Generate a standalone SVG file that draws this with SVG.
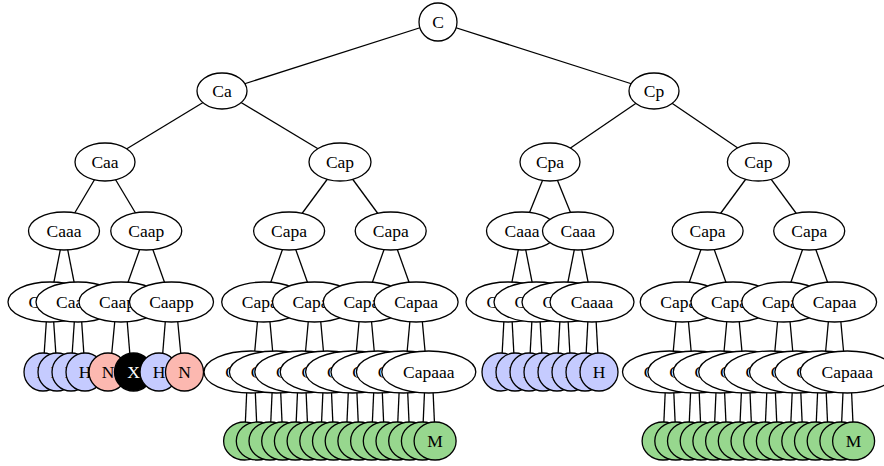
<svg xmlns="http://www.w3.org/2000/svg" width="884" height="466" viewBox="0 0 884 466">
<style>
.e{fill:#fff;stroke:#000;stroke-width:1.3}
.b{fill:#c5cbff;stroke:#000;stroke-width:1.3}
.p{fill:#fcb8b0;stroke:#000;stroke-width:1.3}
.k{fill:#000;stroke:#000;stroke-width:1.3}
.g{fill:#97d78e;stroke:#000;stroke-width:1.3}
text{font-family:"Liberation Serif","Times New Roman",serif;font-size:17.5px;text-anchor:middle;fill:#000}
text.s{text-anchor:start}
text.w{fill:#fff}
#edges line{stroke:#000;stroke-width:1.3}
</style>
<rect width="884" height="466" fill="#fff"/>
<g id="edges">
<line x1="438" y1="22" x2="222" y2="91"/><line x1="438" y1="22" x2="654" y2="91"/>
<line x1="222" y1="91" x2="105" y2="162"/><line x1="222" y1="91" x2="340" y2="162"/>
<line x1="654" y1="91" x2="550" y2="162"/><line x1="654" y1="91" x2="758.4" y2="162"/>
<line x1="105" y1="162" x2="64" y2="231"/><line x1="105" y1="162" x2="146.25" y2="231"/>
<line x1="340" y1="162" x2="289.1" y2="231"/><line x1="340" y1="162" x2="390.7" y2="231"/>
<line x1="550" y1="162" x2="522" y2="231"/><line x1="550" y1="162" x2="578" y2="231"/>
<line x1="758.4" y1="162" x2="707.6" y2="231"/><line x1="758.4" y1="162" x2="809.2" y2="231"/>
<line x1="64" y1="231" x2="50" y2="302"/><line x1="64" y1="231" x2="78" y2="302"/>
<line x1="146.25" y1="231" x2="121" y2="302"/><line x1="146.25" y1="231" x2="171.5" y2="302"/>
<line x1="289.1" y1="231" x2="263.7" y2="302"/><line x1="289.1" y1="231" x2="314.5" y2="302"/>
<line x1="390.7" y1="231" x2="365.3" y2="302"/><line x1="390.7" y1="231" x2="416.1" y2="302"/>
<line x1="522" y1="231" x2="508" y2="302"/><line x1="522" y1="231" x2="536" y2="302"/>
<line x1="578" y1="231" x2="564" y2="302"/><line x1="578" y1="231" x2="592" y2="302"/>
<line x1="707.6" y1="231" x2="682.2" y2="302"/><line x1="707.6" y1="231" x2="733" y2="302"/>
<line x1="809.2" y1="231" x2="783.8" y2="302"/><line x1="809.2" y1="231" x2="834.6" y2="302"/>
<line x1="46.5" y1="319" x2="44" y2="356"/><line x1="53.5" y1="319" x2="56" y2="356"/>
<line x1="74.5" y1="319" x2="72" y2="356"/><line x1="81.5" y1="319" x2="84" y2="356"/>
<line x1="115" y1="319" x2="111.5" y2="356"/><line x1="127" y1="319" x2="130" y2="356"/>
<line x1="165.5" y1="319" x2="162.5" y2="356"/><line x1="177.5" y1="319" x2="181" y2="356"/>
<line x1="257.7" y1="319" x2="254.5" y2="354"/><line x1="269.7" y1="319" x2="272.9" y2="354"/>
<line x1="308.5" y1="319" x2="305.3" y2="354"/><line x1="320.5" y1="319" x2="323.7" y2="354"/>
<line x1="359.3" y1="319" x2="356.1" y2="354"/><line x1="371.3" y1="319" x2="374.5" y2="354"/>
<line x1="410.1" y1="319" x2="406.9" y2="354"/><line x1="422.1" y1="319" x2="425.3" y2="354"/>
<line x1="504" y1="319" x2="502" y2="356"/><line x1="512" y1="319" x2="514" y2="356"/>
<line x1="532" y1="319" x2="530" y2="356"/><line x1="540" y1="319" x2="542" y2="356"/>
<line x1="560" y1="319" x2="558" y2="356"/><line x1="568" y1="319" x2="570" y2="356"/>
<line x1="588" y1="319" x2="586" y2="356"/><line x1="596" y1="319" x2="598" y2="356"/>
<line x1="676.2" y1="319" x2="673" y2="354"/><line x1="688.2" y1="319" x2="691.4" y2="354"/>
<line x1="727" y1="319" x2="723.8" y2="354"/><line x1="739" y1="319" x2="742.2" y2="354"/>
<line x1="777.8" y1="319" x2="774.6" y2="354"/><line x1="789.8" y1="319" x2="793" y2="354"/>
<line x1="828.6" y1="319" x2="825.4" y2="354"/><line x1="840.6" y1="319" x2="843.8" y2="354"/>
<line x1="246.8" y1="390" x2="245.25" y2="425"/><line x1="255.2" y1="390" x2="256.75" y2="425"/>
<line x1="272.2" y1="390" x2="270.65" y2="425"/><line x1="280.6" y1="390" x2="282.15" y2="425"/>
<line x1="297.6" y1="390" x2="296.05" y2="425"/><line x1="306" y1="390" x2="307.55" y2="425"/>
<line x1="323" y1="390" x2="321.45" y2="425"/><line x1="331.4" y1="390" x2="332.95" y2="425"/>
<line x1="348.4" y1="390" x2="346.85" y2="425"/><line x1="356.8" y1="390" x2="358.35" y2="425"/>
<line x1="373.8" y1="390" x2="372.25" y2="425"/><line x1="382.2" y1="390" x2="383.75" y2="425"/>
<line x1="399.2" y1="390" x2="397.65" y2="425"/><line x1="407.6" y1="390" x2="409.15" y2="425"/>
<line x1="424.6" y1="390" x2="423.05" y2="425"/><line x1="433" y1="390" x2="434.55" y2="425"/>
<line x1="665.3" y1="390" x2="663.75" y2="425"/><line x1="673.7" y1="390" x2="675.25" y2="425"/>
<line x1="690.7" y1="390" x2="689.15" y2="425"/><line x1="699.1" y1="390" x2="700.65" y2="425"/>
<line x1="716.1" y1="390" x2="714.55" y2="425"/><line x1="724.5" y1="390" x2="726.05" y2="425"/>
<line x1="741.5" y1="390" x2="739.95" y2="425"/><line x1="749.9" y1="390" x2="751.45" y2="425"/>
<line x1="766.9" y1="390" x2="765.35" y2="425"/><line x1="775.3" y1="390" x2="776.85" y2="425"/>
<line x1="792.3" y1="390" x2="790.75" y2="425"/><line x1="800.7" y1="390" x2="802.25" y2="425"/>
<line x1="817.7" y1="390" x2="816.15" y2="425"/><line x1="826.1" y1="390" x2="827.65" y2="425"/>
<line x1="843.1" y1="390" x2="841.55" y2="425"/><line x1="851.5" y1="390" x2="853.05" y2="425"/>
</g>
<g id="n0"><circle class="e" cx="438" cy="22" r="19"/><text x="438" y="28">C</text></g>
<g id="n1"><ellipse class="e" cx="222" cy="91" rx="25" ry="18"/><text x="222" y="97">Ca</text></g>
<g id="n2"><ellipse class="e" cx="654" cy="91" rx="25" ry="18"/><text x="654" y="97">Cp</text></g>
<g id="n3"><ellipse class="e" cx="105" cy="162" rx="30" ry="19"/><text x="105" y="168">Caa</text></g>
<g id="n4"><ellipse class="e" cx="340" cy="162" rx="31" ry="19"/><text x="340" y="168">Cap</text></g>
<g id="n5"><ellipse class="e" cx="550" cy="162" rx="30" ry="19"/><text x="550" y="168">Cpa</text></g>
<g id="n6"><ellipse class="e" cx="758.4" cy="162" rx="31" ry="19"/><text x="758.4" y="168">Cap</text></g>
<g id="n7"><ellipse class="e" cx="64" cy="231" rx="35.5" ry="19"/><text x="64" y="237">Caaa</text></g>
<g id="n8"><ellipse class="e" cx="146.25" cy="231" rx="35.5" ry="19"/><text x="146.25" y="237">Caap</text></g>
<g id="n9"><ellipse class="e" cx="289.1" cy="231" rx="35.5" ry="19"/><text x="289.1" y="237">Capa</text></g>
<g id="n10"><ellipse class="e" cx="390.7" cy="231" rx="35.5" ry="19"/><text x="390.7" y="237">Capa</text></g>
<g id="n11"><ellipse class="e" cx="522" cy="231" rx="35.5" ry="19"/><text x="522" y="237">Caaa</text></g>
<g id="n12"><ellipse class="e" cx="578" cy="231" rx="35.5" ry="19"/><text x="578" y="237">Caaa</text></g>
<g id="n13"><ellipse class="e" cx="707.6" cy="231" rx="35.5" ry="19"/><text x="707.6" y="237">Capa</text></g>
<g id="n14"><ellipse class="e" cx="809.2" cy="231" rx="35.5" ry="19"/><text x="809.2" y="237">Capa</text></g>
<g id="n15"><ellipse class="e" cx="50" cy="302" rx="42" ry="20"/><text class="s" x="28.6" y="308">C</text></g>
<g id="n16"><ellipse class="e" cx="78" cy="302" rx="42" ry="20"/><text class="s" x="56.1" y="308">Caa</text></g>
<g id="n17"><ellipse class="e" cx="121" cy="302" rx="42" ry="20"/><text class="s" x="99.1" y="308">Caap</text></g>
<g id="n18"><ellipse class="e" cx="171.5" cy="302" rx="42" ry="20"/><text x="171.5" y="308">Caapp</text></g>
<g id="n19"><ellipse class="e" cx="263.7" cy="302" rx="42" ry="20"/><text class="s" x="241.8" y="308">Capa</text></g>
<g id="n20"><ellipse class="e" cx="314.5" cy="302" rx="42" ry="20"/><text class="s" x="292.6" y="308">Capa</text></g>
<g id="n21"><ellipse class="e" cx="365.3" cy="302" rx="42" ry="20"/><text class="s" x="343.4" y="308">Capa</text></g>
<g id="n22"><ellipse class="e" cx="416.1" cy="302" rx="42" ry="20"/><text x="416.1" y="308">Capaa</text></g>
<g id="n23"><ellipse class="e" cx="508" cy="302" rx="42" ry="20"/><text class="s" x="486.6" y="308">C</text></g>
<g id="n24"><ellipse class="e" cx="536" cy="302" rx="42" ry="20"/><text class="s" x="514.6" y="308">C</text></g>
<g id="n25"><ellipse class="e" cx="564" cy="302" rx="42" ry="20"/><text class="s" x="542.6" y="308">C</text></g>
<g id="n26"><ellipse class="e" cx="592" cy="302" rx="42" ry="20"/><text x="592" y="308">Caaaa</text></g>
<g id="n27"><ellipse class="e" cx="682.2" cy="302" rx="42" ry="20"/><text class="s" x="660.3" y="308">Capa</text></g>
<g id="n28"><ellipse class="e" cx="733" cy="302" rx="42" ry="20"/><text class="s" x="711.1" y="308">Capa</text></g>
<g id="n29"><ellipse class="e" cx="783.8" cy="302" rx="42" ry="20"/><text class="s" x="761.9" y="308">Capa</text></g>
<g id="n30"><ellipse class="e" cx="834.6" cy="302" rx="42" ry="20"/><text x="834.6" y="308">Capaa</text></g>
<g id="n31"><circle class="b" cx="43" cy="372" r="19"/><text x="43" y="378">H</text></g>
<g id="n32"><circle class="b" cx="57" cy="372" r="19"/><text x="57" y="378">H</text></g>
<g id="n33"><circle class="b" cx="71" cy="372" r="19"/><text x="71" y="378">H</text></g>
<g id="n34"><circle class="b" cx="85" cy="372" r="19"/><text x="85" y="378">H</text></g>
<g id="n35"><circle class="p" cx="108" cy="372" r="19"/><text x="108" y="378">N</text></g>
<g id="n36"><circle class="k" cx="133.5" cy="372" r="19"/><text class="w" x="133.5" y="378">X</text></g>
<g id="n37"><circle class="b" cx="159" cy="372" r="19"/><text x="159" y="378">H</text></g>
<g id="n38"><circle class="p" cx="184.5" cy="372" r="19"/><text x="184.5" y="378">N</text></g>
<g id="n39"><ellipse class="e" cx="251" cy="372" rx="47" ry="21"/><text class="s" x="225.3" y="378">C</text></g>
<g id="n40"><ellipse class="e" cx="276.4" cy="372" rx="47" ry="21"/><text class="s" x="250.7" y="378">C</text></g>
<g id="n41"><ellipse class="e" cx="301.8" cy="372" rx="47" ry="21"/><text class="s" x="276.1" y="378">C</text></g>
<g id="n42"><ellipse class="e" cx="327.2" cy="372" rx="47" ry="21"/><text class="s" x="301.5" y="378">C</text></g>
<g id="n43"><ellipse class="e" cx="352.6" cy="372" rx="47" ry="21"/><text class="s" x="326.9" y="378">C</text></g>
<g id="n44"><ellipse class="e" cx="378" cy="372" rx="47" ry="21"/><text class="s" x="352.3" y="378">C</text></g>
<g id="n45"><ellipse class="e" cx="403.4" cy="372" rx="47" ry="21"/><text class="s" x="377.7" y="378">C</text></g>
<g id="n46"><ellipse class="e" cx="428.8" cy="372" rx="47" ry="21"/><text x="428.8" y="378">Capaaa</text></g>
<g id="n47"><circle class="b" cx="501" cy="372" r="19"/><text x="501" y="378">H</text></g>
<g id="n48"><circle class="b" cx="515" cy="372" r="19"/><text x="515" y="378">H</text></g>
<g id="n49"><circle class="b" cx="529" cy="372" r="19"/><text x="529" y="378">H</text></g>
<g id="n50"><circle class="b" cx="543" cy="372" r="19"/><text x="543" y="378">H</text></g>
<g id="n51"><circle class="b" cx="557" cy="372" r="19"/><text x="557" y="378">H</text></g>
<g id="n52"><circle class="b" cx="571" cy="372" r="19"/><text x="571" y="378">H</text></g>
<g id="n53"><circle class="b" cx="585" cy="372" r="19"/><text x="585" y="378">H</text></g>
<g id="n54"><circle class="b" cx="599" cy="372" r="19"/><text x="599" y="378">H</text></g>
<g id="n55"><ellipse class="e" cx="669.5" cy="372" rx="47" ry="21"/><text class="s" x="643.8" y="378">C</text></g>
<g id="n56"><ellipse class="e" cx="694.9" cy="372" rx="47" ry="21"/><text class="s" x="669.2" y="378">C</text></g>
<g id="n57"><ellipse class="e" cx="720.3" cy="372" rx="47" ry="21"/><text class="s" x="694.6" y="378">C</text></g>
<g id="n58"><ellipse class="e" cx="745.7" cy="372" rx="47" ry="21"/><text class="s" x="720" y="378">C</text></g>
<g id="n59"><ellipse class="e" cx="771.1" cy="372" rx="47" ry="21"/><text class="s" x="745.4" y="378">C</text></g>
<g id="n60"><ellipse class="e" cx="796.5" cy="372" rx="47" ry="21"/><text class="s" x="770.8" y="378">C</text></g>
<g id="n61"><ellipse class="e" cx="821.9" cy="372" rx="47" ry="21"/><text class="s" x="796.2" y="378">C</text></g>
<g id="n62"><ellipse class="e" cx="847.3" cy="372" rx="47" ry="21"/><text x="847.3" y="378">Capaaa</text></g>
<g id="n63"><ellipse class="g" cx="244.6" cy="441" rx="21" ry="19"/></g>
<g id="n64"><ellipse class="g" cx="257.3" cy="441" rx="21" ry="19"/></g>
<g id="n65"><ellipse class="g" cx="270" cy="441" rx="21" ry="19"/></g>
<g id="n66"><ellipse class="g" cx="282.7" cy="441" rx="21" ry="19"/></g>
<g id="n67"><ellipse class="g" cx="295.4" cy="441" rx="21" ry="19"/></g>
<g id="n68"><ellipse class="g" cx="308.1" cy="441" rx="21" ry="19"/></g>
<g id="n69"><ellipse class="g" cx="320.8" cy="441" rx="21" ry="19"/></g>
<g id="n70"><ellipse class="g" cx="333.5" cy="441" rx="21" ry="19"/></g>
<g id="n71"><ellipse class="g" cx="346.2" cy="441" rx="21" ry="19"/></g>
<g id="n72"><ellipse class="g" cx="358.9" cy="441" rx="21" ry="19"/></g>
<g id="n73"><ellipse class="g" cx="371.6" cy="441" rx="21" ry="19"/></g>
<g id="n74"><ellipse class="g" cx="384.3" cy="441" rx="21" ry="19"/></g>
<g id="n75"><ellipse class="g" cx="397" cy="441" rx="21" ry="19"/></g>
<g id="n76"><ellipse class="g" cx="409.7" cy="441" rx="21" ry="19"/></g>
<g id="n77"><ellipse class="g" cx="422.4" cy="441" rx="21" ry="19"/></g>
<g id="n78"><ellipse class="g" cx="435.1" cy="441" rx="21" ry="19"/><text x="435.1" y="447">M</text></g>
<g id="n79"><ellipse class="g" cx="663.1" cy="441" rx="21" ry="19"/></g>
<g id="n80"><ellipse class="g" cx="675.8" cy="441" rx="21" ry="19"/></g>
<g id="n81"><ellipse class="g" cx="688.5" cy="441" rx="21" ry="19"/></g>
<g id="n82"><ellipse class="g" cx="701.2" cy="441" rx="21" ry="19"/></g>
<g id="n83"><ellipse class="g" cx="713.9" cy="441" rx="21" ry="19"/></g>
<g id="n84"><ellipse class="g" cx="726.6" cy="441" rx="21" ry="19"/></g>
<g id="n85"><ellipse class="g" cx="739.3" cy="441" rx="21" ry="19"/></g>
<g id="n86"><ellipse class="g" cx="752" cy="441" rx="21" ry="19"/></g>
<g id="n87"><ellipse class="g" cx="764.7" cy="441" rx="21" ry="19"/></g>
<g id="n88"><ellipse class="g" cx="777.4" cy="441" rx="21" ry="19"/></g>
<g id="n89"><ellipse class="g" cx="790.1" cy="441" rx="21" ry="19"/></g>
<g id="n90"><ellipse class="g" cx="802.8" cy="441" rx="21" ry="19"/></g>
<g id="n91"><ellipse class="g" cx="815.5" cy="441" rx="21" ry="19"/></g>
<g id="n92"><ellipse class="g" cx="828.2" cy="441" rx="21" ry="19"/></g>
<g id="n93"><ellipse class="g" cx="840.9" cy="441" rx="21" ry="19"/></g>
<g id="n94"><ellipse class="g" cx="853.6" cy="441" rx="21" ry="19"/><text x="853.6" y="447">M</text></g>
</svg>
